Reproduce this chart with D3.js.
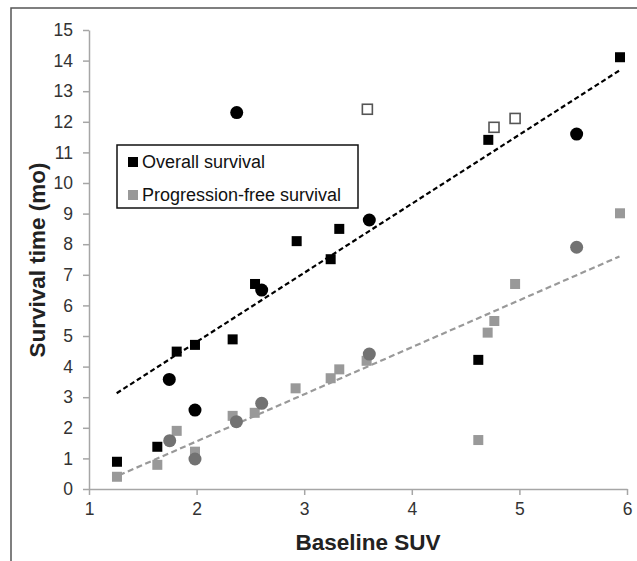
<!DOCTYPE html>
<html>
<head>
<meta charset="utf-8">
<script src="https://cdn.jsdelivr.net/npm/d3@7"></script>
<style>
  body { margin: 0; background: #fff; }
  svg { display: block; font-family: "Liberation Sans", Arial, sans-serif; }
</style>
</head>
<body>
<div id="chart"></div>
<script>
// Overall survival (black)
const osSquareX = [1.26, 1.635, 1.815, 1.985, 2.335, 2.543, 2.93, 3.246, 3.326, 4.618, 4.711, 5.935];
const osSquareY = [0.89, 1.38, 4.49, 4.71, 4.89, 6.7, 8.1, 7.51, 8.5, 4.22, 11.41, 14.11];
const osOpenX = [3.587, 4.764, 4.96];
const osOpenY = [12.41, 11.82, 12.11];
const osCircleX = [1.746, 1.985, 2.373, 2.605, 3.605, 5.532];
const osCircleY = [3.58, 2.58, 12.3, 6.5, 8.79, 11.6];

// Progression-free survival (grey)
const pfsSquareX = [1.26, 1.635, 1.815, 1.985, 2.335, 2.54, 2.92, 3.246, 3.326, 3.58, 4.618, 4.705, 4.767, 4.96, 5.935];
const pfsSquareY = [0.4, 0.79, 1.9, 1.22, 2.39, 2.49, 3.29, 3.62, 3.91, 4.19, 1.6, 5.11, 5.49, 6.7, 9.01];
const pfsCircleX = [1.75, 1.985, 2.37, 2.605, 3.605, 5.532];
const pfsCircleY = [1.58, 0.98, 2.2, 2.8, 4.41, 7.9];

// trend line end points
const osTrendX = [1.257, 5.935];
const osTrendY = [3.13, 13.69];
const pfsTrendX = [1.28, 5.93];
const pfsTrendY = [0.45, 7.6];

const xTicks = [1, 2, 3, 4, 5, 6];
const yTicks = d3.range(0, 16);
const legendLabels = ["Overall survival", "Progression-free survival"];

const width = 637, height = 561;
const svg = d3.select("#chart").append("svg")
  .attr("width", width)
  .attr("height", height);

// frame from the cropped figure
svg.append("path")
  .attr("d", `M11,${height} V8 H${width}`)
  .attr("fill", "none")
  .attr("stroke", "#555")
  .attr("stroke-width", 1.5);

const x = d3.scaleLinear().domain([1, 6]).range([89, 627]);
const y = d3.scaleLinear().domain([0, 15]).range([489, 30]);

const xAxis = svg.append("g")
  .attr("transform", `translate(0,${y(0)})`)
  .call(d3.axisBottom(x).tickValues(xTicks).tickSize(6).tickSizeOuter(0).tickFormat(d3.format("d")));
const yAxis = svg.append("g")
  .attr("transform", `translate(${x(1)},0)`)
  .call(d3.axisLeft(y).tickValues(yTicks).tickSize(6).tickSizeOuter(0).tickFormat(d3.format("d")));

[xAxis, yAxis].forEach((g) => {
  g.select(".domain").attr("stroke", "#a6a6a6").attr("stroke-width", 1.5);
  g.selectAll(".tick line").attr("stroke", "#a6a6a6").attr("stroke-width", 1.5);
  g.selectAll(".tick text")
    .attr("fill", "#333")
    .style("font-size", "17.5px")
    .style("font-family", "Liberation Sans, Arial, sans-serif");
});
xAxis.selectAll(".tick text").attr("y", 14);
yAxis.selectAll(".tick text").attr("x", -16);

// axis titles
svg.append("text")
  .attr("x", 368)
  .attr("y", 550)
  .attr("text-anchor", "middle")
  .style("font-size", "22.5px")
  .style("font-weight", "bold")
  .attr("fill", "#222")
  .text("Baseline SUV");

svg.append("text")
  .attr("transform", "translate(45,260) rotate(-90)")
  .attr("text-anchor", "middle")
  .style("font-size", "22.5px")
  .style("font-weight", "bold")
  .attr("fill", "#222")
  .text("Survival time (mo)");

// trend lines
const line = d3.line().x((d) => x(d[0])).y((d) => y(d[1]));
svg.append("path")
  .datum(d3.zip(pfsTrendX, pfsTrendY))
  .attr("d", line)
  .attr("fill", "none")
  .attr("stroke", "#999")
  .attr("stroke-width", 2.2)
  .attr("stroke-dasharray", "6,3.5");
svg.append("path")
  .datum(d3.zip(osTrendX, osTrendY))
  .attr("d", line)
  .attr("fill", "none")
  .attr("stroke", "#000")
  .attr("stroke-width", 2.2)
  .attr("stroke-dasharray", "5,3");

const sq = 10;
const drawSquares = (xs, ys, fill, stroke) => {
  svg.append("g").selectAll("rect")
    .data(d3.zip(xs, ys))
    .enter()
    .append("rect")
    .attr("x", (d) => x(d[0]) - sq / 2)
    .attr("y", (d) => y(d[1]) - sq / 2)
    .attr("width", sq)
    .attr("height", sq)
    .attr("fill", fill)
    .attr("stroke", stroke)
    .attr("stroke-width", stroke === "none" ? 0 : 1.6);
};
const drawCircles = (xs, ys, fill) => {
  svg.append("g").selectAll("circle")
    .data(d3.zip(xs, ys))
    .enter()
    .append("circle")
    .attr("cx", (d) => x(d[0]))
    .attr("cy", (d) => y(d[1]))
    .attr("r", 6.5)
    .attr("fill", fill);
};

drawSquares(pfsSquareX, pfsSquareY, "#999", "none");
drawCircles(pfsCircleX, pfsCircleY, "#727272");
drawSquares(osSquareX, osSquareY, "#000", "none");
drawSquares(osOpenX, osOpenY, "#fff", "#555");
drawCircles(osCircleX, osCircleY, "#000");

// legend
const legend = svg.append("g").attr("transform", "translate(117,145)");
legend.append("rect")
  .attr("width", 241)
  .attr("height", 63)
  .attr("fill", "#fff")
  .attr("stroke", "#111")
  .attr("stroke-width", 1.5);

const legendColor = d3.scaleOrdinal().domain(legendLabels).range(["#000", "#999"]);
const item = legend.selectAll(".item")
  .data(legendLabels)
  .enter()
  .append("g")
  .attr("transform", (d, i) => `translate(11, ${12 + i * 33})`);
item.append("rect")
  .attr("width", 10)
  .attr("height", 10)
  .attr("fill", legendColor);
item.append("text")
  .attr("x", 14)
  .attr("y", 11)
  .attr("fill", "#111")
  .style("font-size", "18px")
  .text((d) => d);
</script>
</body>
</html>
